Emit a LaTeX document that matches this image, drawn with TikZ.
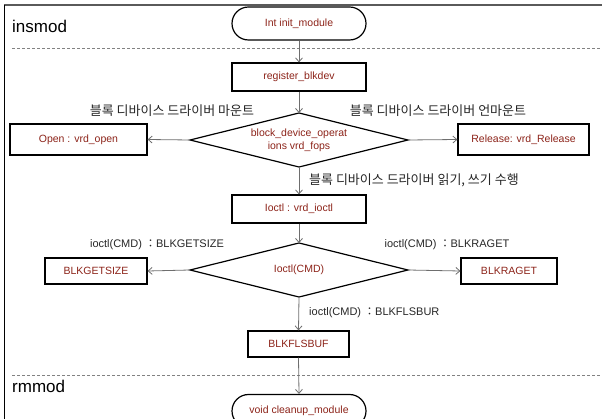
\documentclass[tikz,border=0pt]{standalone}
\usepackage{fontspec}
\setmainfont{Liberation Sans}
\newfontfamily\kr{Noto Sans CJK KR}
\usetikzlibrary{shapes.geometric,shapes.misc,arrows.meta}
\definecolor{boxtext}{RGB}{140,35,25}
\definecolor{linegray}{RGB}{110,110,110}
\definecolor{framegray}{RGB}{90,90,90}
\definecolor{dashgray}{RGB}{130,130,130}
\tikzset{
  x=1pt, y=-1pt,
  procbox/.style={draw=black, line width=1.2pt, text=boxtext, inner sep=0pt,
    font=\fontsize{10.5}{12}\selectfont},
  termbox/.style={draw=black, line width=1.2pt, text=boxtext, inner sep=0pt,
    rounded rectangle, minimum width=134pt, minimum height=33pt,
    font=\fontsize{10.5}{12}\selectfont},
  decline/.style={draw=black, line width=1.2pt, line join=miter},
  dectext/.style={text=boxtext, inner sep=0pt, align=center,
    font=\fontsize{10.5}{13}\selectfont},
  flow/.style={draw=linegray, line width=0.8pt, -{Straight Barb[length=4pt,width=7pt]}},
  krlabel/.style={inner sep=0pt, text=black!85, font=\kr\fontsize{13}{15}\selectfont},
  cmdlabel/.style={inner sep=0pt, text=black!85, font=\fontsize{11}{13}\selectfont},
  sectlabel/.style={inner sep=0pt, anchor=west, text=black, font=\fontsize{17}{20}\selectfont},
}
\begin{document}
\begin{tikzpicture}
\useasboundingbox (0,0) rectangle (602,419);
\clip (0,0) rectangle (602,419);
% frame
\draw[framegray, line width=2pt] (4,5) -- (602,5);
\draw[black, line width=1pt] (4,5) -- (4,419);
\draw[dashgray, line width=0.9pt, dash pattern=on 3pt off 2pt] (12,48) -- (602,48);
\draw[dashgray, line width=0.9pt, dash pattern=on 3pt off 2pt] (12,375) -- (602,375);
\node[sectlabel] (ins) at (12,26) {insmod};
\node[sectlabel] (rm) at (12,386) {rmmod};
% decision 1 corners
\coordinate (d1n) at (299,113);
\coordinate (d1s) at (299,167);
\coordinate (d1w) at (190,140);
\coordinate (d1e) at (408,140);
\draw[decline] (d1n) -- (d1e) -- (d1s) -- (d1w) -- cycle;
\node[dectext] (d1) at (299,140) {block\_device\_operat\\ions vrd\_fops};
% decision 2 corners
\coordinate (d2n) at (299,243);
\coordinate (d2s) at (299,297);
\coordinate (d2w) at (190,270);
\coordinate (d2e) at (408,270);
\draw[decline] (d2n) -- (d2e) -- (d2s) -- (d2w) -- cycle;
\node[dectext] (d2) at (299,270) {Ioctl(CMD)};
% nodes
\node[termbox] (init) at (299,23.5) {Int init\_module};
\node[procbox, minimum width=134pt, minimum height=28pt] (reg) at (299,77) {register\_blkdev};
\node[procbox, minimum width=137pt, minimum height=31pt] (open) at (78.5,139.5) {Open : vrd\_open};
\node[procbox, minimum width=131pt, minimum height=31pt] (rel) at (523.5,139.5) {Release: vrd\_Release};
\node[procbox, minimum width=134pt, minimum height=28pt] (ioc) at (299,209) {Ioctl : vrd\_ioctl};
\node[procbox, minimum width=102pt, minimum height=26pt] (gs) at (96,271) {BLKGETSIZE};
\node[procbox, minimum width=96pt, minimum height=26pt] (ra) at (509,271) {BLKRAGET};
\node[procbox, minimum width=101pt, minimum height=26pt] (fl) at (298.5,344) {BLKFLSBUF};
\node[termbox] (clean) at (299,411) {void cleanup\_module};
% labels
\node[krlabel] (lmount) at (172,111) {블록 디바이스 드라이버 마운트};
\node[krlabel] (lumount) at (438,111) {블록 디바이스 드라이버 언마운트};
\node[krlabel, anchor=west] (lrw) at (309,180) {블록 디바이스 드라이버 읽기, 쓰기 수행};
\node[cmdlabel] (lgs) at (157,245) {ioctl(CMD) {\kr ：}BLKGETSIZE};
\node[cmdlabel] (lra) at (447,245) {ioctl(CMD) {\kr ：}BLKRAGET};
\node[cmdlabel, anchor=west] (lfl) at (309,313) {ioctl(CMD) {\kr ：}BLKFLSBUR};
% connectors
\draw[flow] (init.south) -- (reg.north);
\draw[flow] (reg.south) -- (d1n);
\draw[flow] (d1s) -- (ioc.north);
\draw[flow] (ioc.south) -- (d2n);
\draw[flow] (d2s) -- (fl.north);
\draw[flow] (fl.south) -- (clean.north);
\draw[flow] (d1w) -- (open.east);
\draw[flow] (d1e) -- (rel.west);
\draw[flow] (d2w) -- (gs.east);
\draw[flow] (d2e) -- (ra.west);
\end{tikzpicture}
\end{document}
